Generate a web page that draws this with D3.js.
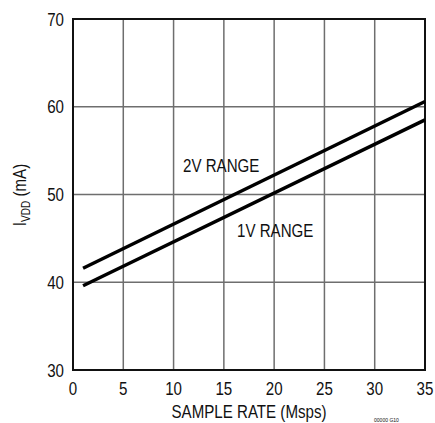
<!DOCTYPE html>
<html><head><meta charset="utf-8">
<script src="https://cdn.jsdelivr.net/npm/d3@7"></script>
<style>
body{margin:0;background:#fff;}
text{font-family:"Liberation Sans Narrow","Arial Narrow","Liberation Sans",sans-serif;fill:#111;}
</style></head>
<body><svg id="c" width="435" height="423"></svg>
<script>
const xTicks = [0,5,10,15,20,25,30,35];
const yTicks = [30,40,50,60,70];
const sampleRate = [1,35];
const range2V = [41.6,60.6];
const range1V = [39.6,58.5];
const seriesLabels = ["2V RANGE","1V RANGE"];

const svg = d3.select("#c");
const m = {l:73,t:19,r:425,b:370};
const x = d3.scaleLinear().domain([0,35]).range([m.l,m.r]);
const y = d3.scaleLinear().domain([30,70]).range([m.b,m.t]);
const SX = 0.84;
function narrow(sel, px, py, rot){
  sel.attr("x",0).attr("y",0)
     .attr("transform",`translate(${px},${py})${rot?` rotate(${rot})`:""} scale(${SX},1)`);
}

// grid
svg.append("g").selectAll("line").data(xTicks.slice(1,-1)).join("line")
  .attr("x1",d=>x(d)).attr("x2",d=>x(d)).attr("y1",m.t).attr("y2",m.b)
  .attr("stroke","#6e6e6e").attr("stroke-width",1.5);
svg.append("g").selectAll("line").data(yTicks.slice(1,-1)).join("line")
  .attr("y1",d=>y(d)).attr("y2",d=>y(d)).attr("x1",m.l).attr("x2",m.r)
  .attr("stroke","#6e6e6e").attr("stroke-width",1.5);
// frame
svg.append("rect").attr("x",m.l).attr("y",m.t).attr("width",m.r-m.l).attr("height",m.b-m.t)
  .attr("fill","none").attr("stroke","#111").attr("stroke-width",2);

// tick labels
svg.append("g").selectAll("text").data(xTicks).join("text")
  .attr("text-anchor","middle").attr("font-size",18).text(d=>d)
  .each(function(d){ narrow(d3.select(this), x(d), 395); });
svg.append("g").selectAll("text").data(yTicks).join("text")
  .attr("text-anchor","end").attr("font-size",18).text(d=>d)
  .each(function(d){ narrow(d3.select(this), 64, y(d)+6.5); });

// lines
const line = d3.line().x((d,i)=>x(sampleRate[i])).y(d=>y(d));
[range2V,range1V].forEach(s=>{
  svg.append("path").attr("d",line(s)).attr("fill","none")
    .attr("stroke","#000").attr("stroke-width",3.5);
});

narrow(svg.append("text").attr("font-size",18).text(seriesLabels[0]),183,172);
narrow(svg.append("text").attr("font-size",18).text(seriesLabels[1]),237,237);

// axis titles
narrow(svg.append("text").attr("text-anchor","middle").attr("font-size",18)
  .text("SAMPLE RATE (Msps)"),249,418);
const yt = svg.append("text").attr("text-anchor","middle").attr("font-size",18);
narrow(yt,26,195,-90);
yt.append("tspan").text("I");
yt.append("tspan").attr("font-size",12).attr("dy",4).text("VDD");
yt.append("tspan").attr("dy",-4).text(" (mA)");

narrow(svg.append("text").attr("font-size",6).attr("fill","#333").text("00000 G10"),374,422);
</script></body></html>
